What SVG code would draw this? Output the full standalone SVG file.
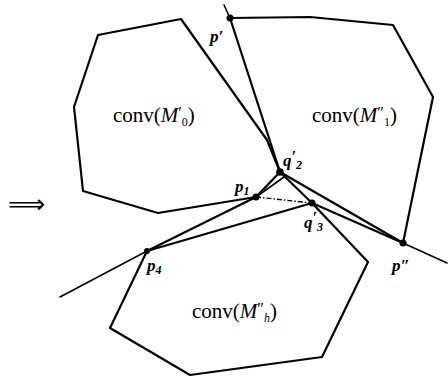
<svg xmlns="http://www.w3.org/2000/svg" width="448" height="380" viewBox="0 0 448 380">
<style>
.e{fill:none;stroke:#000;stroke-width:2.2;stroke-linejoin:round;stroke-linecap:round}
.t{fill:none;stroke:#000;stroke-width:1.6;stroke-linecap:round}
.d{fill:none;stroke:#000;stroke-width:1.4;stroke-dasharray:5 2 1.5 2}
.dot{fill:#000}
.lab{font-family:"Liberation Serif",serif;font-size:21px;fill:#000}
.pl{font-family:"Liberation Serif",serif;font-size:17px;font-style:italic;font-weight:bold;fill:#000}
.s{font-size:12px}
.pr{font-size:16px}
</style>
<rect width="448" height="380" fill="#fff"/>
<g id="hull-M0">
<polyline class="e" points="256,197 158,213 83,191 74,107 98,35 181,19 267,140 280,172 256,197"/>
<text class="lab" x="113" y="122">conv(<tspan font-style="italic">M</tspan><tspan class="pr" dy="-4">′</tspan><tspan class="s" dy="8">0</tspan><tspan dy="-4">)</tspan></text>
</g>
<g id="hull-M1">
<polyline class="e" points="280,172 230,18 310,17 393,25 433,97 403,243"/>
<text class="lab" x="312" y="122">conv(<tspan font-style="italic">M</tspan><tspan class="pr" dy="-4">″</tspan><tspan class="s" dy="8">1</tspan><tspan dy="-4">)</tspan></text>
</g>
<g id="hull-Mh">
<polyline class="e" points="312,203 147,251 110,328 190,375 322,357 368,262 312,203"/>
<text class="lab" x="192" y="318">conv(<tspan font-style="italic">M</tspan><tspan class="pr" dy="-4">″</tspan><tspan class="s" font-style="italic" dy="8">h</tspan><tspan dy="-4">)</tspan></text>
</g>
<g id="connectors">
<line class="t" x1="224" y1="5" x2="230" y2="18"/>
<line class="e" x1="280" y1="172" x2="312" y2="203"/>
<line class="e" x1="280" y1="172" x2="403" y2="243"/>
<line class="e" x1="312" y1="203" x2="403" y2="243"/>
<line class="t" x1="403" y1="243" x2="447" y2="263"/>
<line class="t" x1="60" y1="297" x2="147" y2="251"/>
<line class="e" x1="147" y1="251" x2="256" y2="197"/>
<line class="t" x1="256" y1="197" x2="284" y2="177"/>
<line class="d" x1="256" y1="197" x2="312" y2="203"/>
</g>
<g id="points">
<circle class="dot" cx="230" cy="18" r="3.5"/>
<circle class="dot" cx="280" cy="172" r="3.8"/>
<circle class="dot" cx="256" cy="197" r="3.5"/>
<circle class="dot" cx="312" cy="203" r="3.5"/>
<circle class="dot" cx="147" cy="251" r="3"/>
<circle class="dot" cx="403" cy="243" r="3.5"/>
</g>
<g id="labels">
<text class="pl" x="210" y="42">p′</text>
<text class="pl" x="283" y="166">q<tspan class="pr" dy="-4">′</tspan><tspan class="s" dy="7">2</tspan></text>
<text class="pl" x="235" y="192">p<tspan class="s" dy="3">1</tspan></text>
<text class="pl" x="304" y="228">q<tspan class="pr" dy="-5">′</tspan><tspan class="s" dy="8">3</tspan></text>
<text class="pl" x="147" y="271">p<tspan class="s" dy="3">4</tspan></text>
<text class="pl" x="392" y="271">p″</text>
<text x="8" y="213" style="font-family:'DejaVu Sans',sans-serif;font-size:26px">⟹</text>
</g>
</svg>
